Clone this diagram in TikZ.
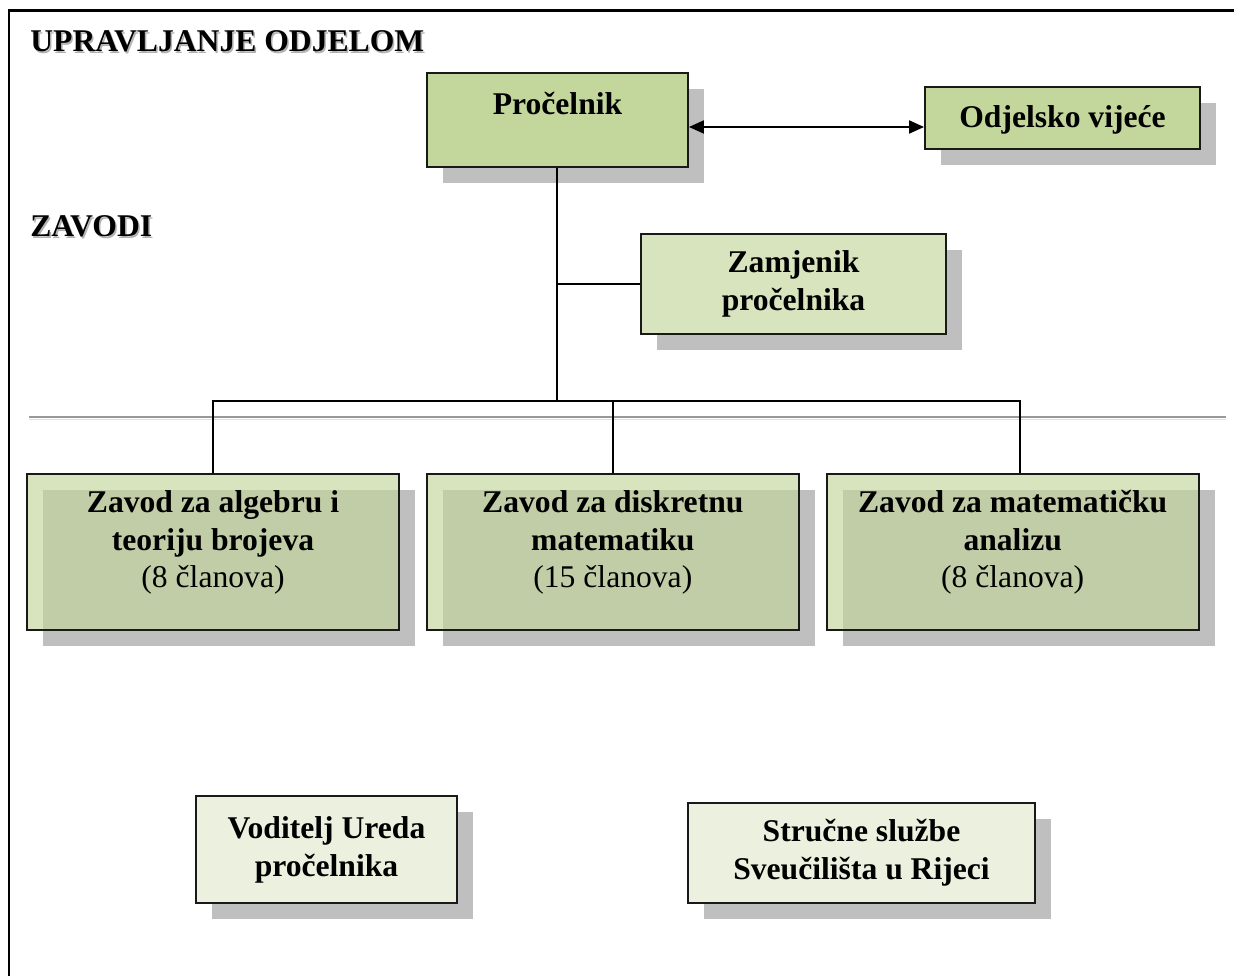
\documentclass[tikz,border=0pt]{standalone}
\usepackage{fontspec}
\setmainfont{Liberation Serif}
\usetikzlibrary{arrows.meta,positioning,shadows}
\definecolor{zelena}{HTML}{C3D69B}
\definecolor{svjzelena}{HTML}{D7E4BD}
\definecolor{blijeda}{HTML}{EBF1DE}
\definecolor{sjena}{HTML}{BFBFBF}
\newcommand{\velfont}{\fontsize{18}{21.6}\selectfont}

\begin{document}
\begin{tikzpicture}[
  x=0.02cm, y=-0.02cm,
  box/.style={draw=black!90, line width=1.1pt, align=center, inner sep=0pt, font=\velfont\bfseries,
    drop shadow={shadow xshift=0.32cm, shadow yshift=-0.32cm, fill=sjena, opacity=1}},
  zavod/.style={box, fill=zelena, fill opacity=0.65, text opacity=1, minimum width=7.44cm,
    text height=2.28cm, text depth=0.84cm},
  naslov/.style={anchor=base west, inner sep=0pt, font=\velfont\bfseries},
  arr/.style={{Triangle[length=0.3cm,width=0.26cm]}-{Triangle[length=0.3cm,width=0.26cm]}, line width=1.1pt},
  conn/.style={line width=1.1pt},
  node distance=0.52cm
]
\useasboundingbox (0,0) rectangle (1234,976);
\draw[line width=0.06cm] (9,976) -- (9,11) -- (1234,11);

% naslovi sa sjenom
\node[naslov, black!30] (upr-s) at (31.5,53.5) {UPRAVLJANJE ODJELOM};
\node[naslov] (upr) at (30,52) {UPRAVLJANJE ODJELOM};
\node[naslov, black!30] (zav-s) at (31.5,238.5) {ZAVODI};
\node[naslov] (zav) at (30,237) {ZAVODI};

% siva crta
\draw[black!40, line width=0.04cm] (29,417) -- (1226,417);
\draw[black!12, line width=0.04cm] (29,419.5) -- (1226,419.5);

\node[box, fill=zelena, minimum width=5.22cm, text height=0.84cm, text depth=1.04cm] (procelnik) at (557.5,120) {Pročelnik};
\node[box, fill=zelena, minimum width=5.5cm, text height=0.82cm, text depth=0.42cm] (vijece) at (1062.5,118) {Odjelsko vijeće};
\node[box, fill=svjzelena, minimum width=6.1cm, minimum height=2cm] (zamjenik) at (793.5,284) {Zamjenik\\pročelnika};

\node[zavod] (zalg) at (213,552) {Zavod za algebru i\\teoriju brojeva\\\textmd{(8 članova)}};
\node[zavod, right=of zalg] (zdis) {Zavod za diskretnu\\matematiku\\\textmd{(15 članova)}};
\node[zavod, right=of zdis] (zmat) {Zavod za matematičku\\analizu\\\textmd{(8 članova)}};

\node[box, fill=blijeda, minimum width=5.22cm, minimum height=2.14cm] (voditelj) at (326.5,849.5) {Voditelj Ureda\\pročelnika};
\node[box, fill=blijeda, minimum width=6.94cm, minimum height=2cm] (strucne) at (861.5,853) {Stručne službe\\Sveučilišta u Rijeci};

\coordinate (bus) at (557,401);
\draw[arr] ([yshift=-0.14cm]procelnik.east) -- ([yshift=-0.14cm]procelnik.east -| vijece.west);
\draw[conn] (bus |- procelnik.south) -- (bus);
\draw[conn] (zamjenik.west) -- (zamjenik.west -| bus);
\draw[conn] (zalg.north) |- (bus) -| ([xshift=0.14cm]zmat.north);
\draw[conn] (zdis.north) -- (zdis.north |- bus);
\end{tikzpicture}
\end{document}
